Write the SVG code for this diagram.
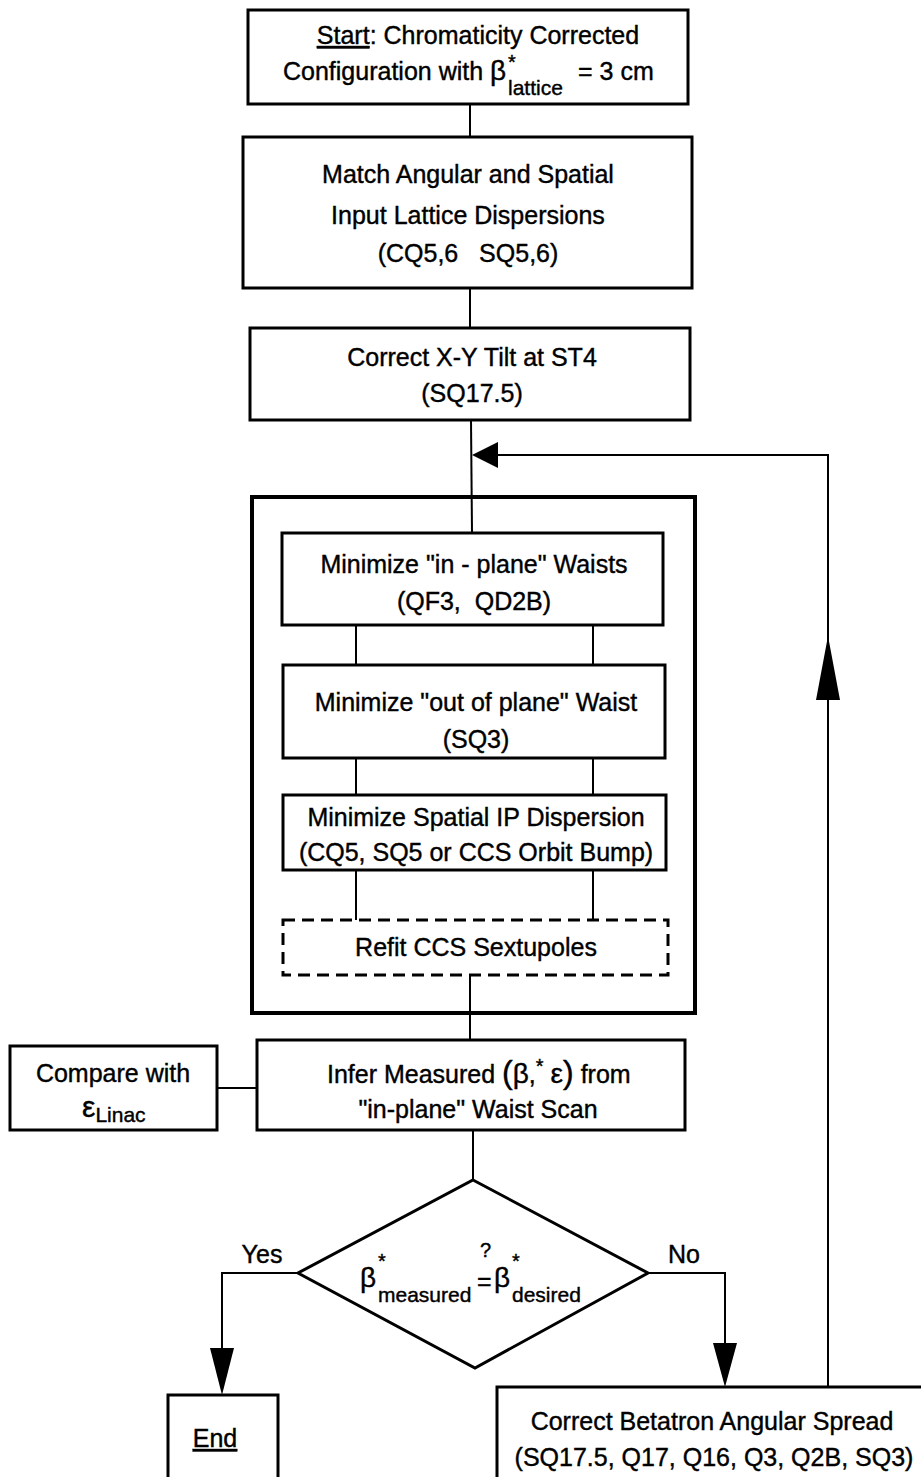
<svg xmlns="http://www.w3.org/2000/svg" width="921" height="1477" viewBox="0 0 921 1477">
<style>
.box{fill:#fff;stroke:#000;stroke-width:3}
.frame{fill:none;stroke:#000;stroke-width:4}
.dash{fill:#fff;stroke:#000;stroke-width:3;stroke-dasharray:12 7}
.ln{fill:none;stroke:#000;stroke-width:2}
.ah{fill:#000;stroke:none}
text{font-family:"Liberation Sans",Arial,sans-serif;font-size:25px;fill:#000;stroke:#000;stroke-width:0.4}
.c{text-anchor:middle}
.sub{font-size:21px}
.gr{font-size:28px}
.st{font-size:20px}
</style>
<rect width="921" height="1477" fill="#fff"/>
<g id="frame"><rect class="frame" x="252" y="497" width="443" height="516"/></g>
<g id="connectors">
<line class="ln" x1="470" y1="104" x2="470" y2="137"/>
<line class="ln" x1="470" y1="288" x2="470" y2="328"/>
<line class="ln" x1="471" y1="420" x2="472" y2="533"/>
<line class="ln" x1="356" y1="625" x2="356" y2="665"/>
<line class="ln" x1="593" y1="625" x2="593" y2="665"/>
<line class="ln" x1="356" y1="758" x2="356" y2="795"/>
<line class="ln" x1="593" y1="758" x2="593" y2="795"/>
<line class="ln" x1="356" y1="870" x2="356" y2="920"/>
<line class="ln" x1="593" y1="870" x2="593" y2="920"/>
<line class="ln" x1="470" y1="975" x2="470" y2="1040"/>
<line class="ln" x1="217" y1="1088" x2="257" y2="1088"/>
<line class="ln" x1="473" y1="1130" x2="473" y2="1180"/>
<polyline class="ln" points="298,1273 222,1273 222,1350"/>
<polygon class="ah" points="210,1348 234,1348 222,1395"/>
<polyline class="ln" points="648,1273 725,1273 725,1345"/>
<polygon class="ah" points="713,1343 737,1343 725,1387"/>
<polyline class="ln" points="828,1387 828,455 495,455"/>
<polygon class="ah" points="472,455 498,442 498,468"/>
<polygon class="ah" points="828,636 816,700 840,700"/>
</g>
<g id="start">
<rect class="box" x="248" y="10" width="440" height="94"/>
<text class="c" x="478" y="44"><tspan text-decoration="underline">Start</tspan>: Chromaticity Corrected</text>
<text x="283" y="80">Configuration with<tspan class="gr" x="490" y="80">β</tspan><tspan class="st" x="508" y="69">*</tspan><tspan class="sub" x="508" y="95">lattice</tspan><tspan x="578" y="80">= 3 cm</tspan></text>
</g>
<g id="match">
<rect class="box" x="243" y="137" width="449" height="151"/>
<text class="c" x="468" y="183">Match Angular and Spatial</text>
<text class="c" x="468" y="224">Input Lattice Dispersions</text>
<text class="c" x="468" y="262" xml:space="preserve">(CQ5,6   SQ5,6)</text>
</g>
<g id="tilt">
<rect class="box" x="250" y="328" width="440" height="92"/>
<text class="c" x="472" y="366">Correct X-Y Tilt at ST4</text>
<text class="c" x="472" y="402">(SQ17.5)</text>
</g>
<g id="inplane">
<rect class="box" x="282" y="533" width="381" height="92"/>
<text class="c" x="474" y="573">Minimize "in - plane" Waists</text>
<text class="c" x="474" y="610" xml:space="preserve">(QF3,  QD2B)</text>
</g>
<g id="outplane">
<rect class="box" x="283" y="665" width="382" height="93"/>
<text class="c" x="476" y="711">Minimize "out of plane" Waist</text>
<text class="c" x="476" y="748">(SQ3)</text>
</g>
<g id="spatial">
<rect class="box" x="283" y="795" width="383" height="75"/>
<text class="c" x="476" y="826">Minimize Spatial IP Dispersion</text>
<text class="c" x="476" y="861" font-size="26">(CQ5, SQ5 or CCS Orbit Bump)</text>
</g>
<g id="refit">
<rect class="dash" x="283" y="920" width="385" height="55"/>
<text class="c" x="476" y="956">Refit CCS Sextupoles</text>
</g>
<g id="infer">
<rect class="box" x="257" y="1040" width="428" height="90"/>
<text x="327" y="1083">Infer Measured <tspan font-size="32">(</tspan><tspan class="gr">β</tspan>,<tspan class="st" dy="-10">*</tspan><tspan dy="10"> </tspan><tspan class="gr">ε</tspan><tspan font-size="32">)</tspan>  from</text>
<text class="c" x="478" y="1118">"in-plane" Waist Scan</text>
</g>
<g id="compare">
<rect class="box" x="10" y="1046" width="207" height="84"/>
<text class="c" x="113" y="1082">Compare with</text>
<text x="82" y="1117"><tspan font-size="30">ε</tspan><tspan class="sub" dy="5">Linac</tspan></text>
</g>
<g id="decision">
<polygon class="box" points="473,1180 648,1273 475,1368 298,1273"/>
<text class="gr" x="360" y="1287">β<tspan class="st" x="378" y="1268">*</tspan><tspan class="sub" x="378" y="1302">measured</tspan><tspan font-size="25" x="477" y="1290">=</tspan><tspan font-size="20" x="480" y="1257">?</tspan><tspan x="494" y="1287">β</tspan><tspan class="st" x="512" y="1268">*</tspan><tspan class="sub" x="512" y="1302">desired</tspan></text>
<text class="c" x="262" y="1263">Yes</text>
<text class="c" x="684" y="1263">No</text>
</g>
<g id="end">
<rect class="box" x="168" y="1395" width="110" height="90"/>
<text class="c" x="215" y="1447" text-decoration="underline">End</text>
</g>
<g id="betatron">
<rect class="box" x="497" y="1387" width="430" height="100"/>
<text class="c" x="712" y="1430" font-size="24">Correct Betatron Angular Spread</text>
<text class="c" x="714" y="1466">(SQ17.5, Q17, Q16, Q3, Q2B, SQ3)</text>
</g>
</svg>
